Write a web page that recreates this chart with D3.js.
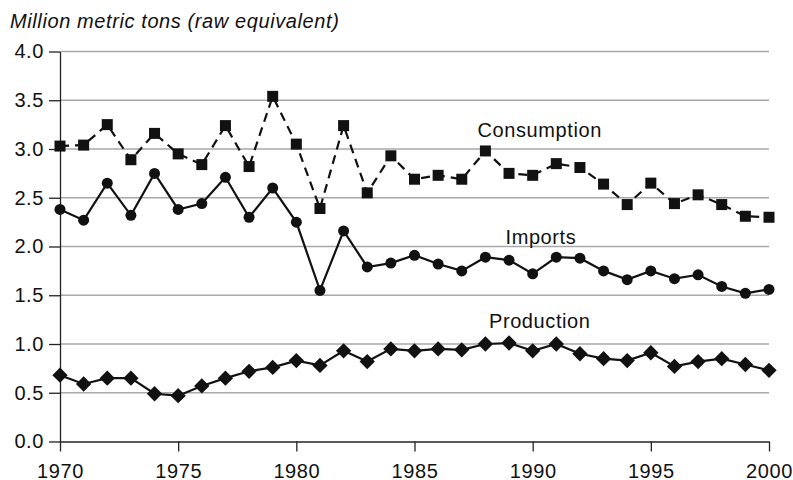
<!DOCTYPE html>
<html lang="en">
	<head>
		<meta charset="utf-8">
		<title>consumption imports production</title>
		<script type="text/javascript" src="https://cdn.jsdelivr.net/npm/d3@7"></script>
		<style type="text/css">
			body { margin:0; background:#fff; }
			text { font-family: "Liberation Sans", Arial, sans-serif; letter-spacing: 0.6px; }
		</style>
	</head>
	<body>
		<script type="text/javascript">

var years = d3.range(1970, 2001)
var consumption = [3.03,3.04,3.25,2.89,3.16,2.95,2.84,3.24,2.82,3.54,3.05,2.39,3.24,2.55,2.93,2.69,2.73,2.69,2.98,2.75,2.73,2.85,2.81,2.64,2.43,2.65,2.44,2.53,2.43,2.31,2.30]
var imports = [2.38,2.27,2.65,2.32,2.75,2.38,2.44,2.71,2.30,2.60,2.25,1.55,2.16,1.79,1.83,1.91,1.82,1.75,1.89,1.86,1.72,1.89,1.88,1.75,1.66,1.75,1.67,1.71,1.59,1.52,1.56]
var production = [0.68,0.59,0.65,0.65,0.49,0.47,0.57,0.65,0.72,0.76,0.83,0.78,0.93,0.82,0.95,0.93,0.95,0.94,1.00,1.01,0.93,1.00,0.90,0.85,0.83,0.91,0.77,0.82,0.85,0.79,0.73]
var yTicks = [0,0.5,1,1.5,2,2.5,3,3.5,4]
var xTicks = [1970,1975,1980,1985,1990,1995,2000]
var labels = [
	{name:"Consumption", year:1990.3, value:3.12},
	{name:"Imports", year:1990.35, value:2.03},
	{name:"Production", year:1990.3, value:1.16}
]

var w = 793, h = 480
var svg = d3.select("body").append("svg")
			.attr("width", w)
			.attr("height", h)

var x = d3.scaleLinear().domain([1970,2000]).range([60,769])
var y = d3.scaleLinear().domain([0,4]).range([441.5,51.5])

svg.append("text")
	.text("Million metric tons (raw equivalent)")
	.attr("x", 10).attr("y", 28)
	.attr("font-size", "20px")
	.attr("font-style", "italic")
	.attr("fill", "#111")

// gridlines
svg.selectAll(".grid")
	.data(yTicks.slice(1))
	.enter()
	.append("line")
	.attr("x1", 60).attr("x2", 769)
	.attr("y1", function(d){ return y(d) })
	.attr("y2", function(d){ return y(d) })
	.attr("stroke", "#a8a8a8")
	.attr("stroke-width", 1.5)

var yAxis = d3.axisLeft(y).tickValues(yTicks).tickFormat(d3.format(".1f")).tickSize(11).tickSizeOuter(0)
var gy = svg.append("g").attr("transform","translate(60,0)").call(yAxis)
gy.select(".domain").attr("stroke","#222").attr("stroke-width",1.3)
gy.selectAll(".tick line").attr("stroke","#222").attr("stroke-width",1.3)
gy.selectAll(".tick text").attr("font-size","20px").attr("fill","#111").attr("x",-16)
	.attr("font-family","Liberation Sans, Arial, sans-serif")

var xAxis = d3.axisBottom(x).tickValues(xTicks).tickFormat(d3.format("d")).tickSize(10).tickSizeOuter(0)
var gx = svg.append("g").attr("transform","translate(0,441.5)").call(xAxis)
gx.select(".domain").attr("stroke","#222").attr("stroke-width",1.3)
gx.selectAll(".tick line").attr("stroke","#222").attr("stroke-width",1.3)
gx.selectAll(".tick text").attr("font-size","20px").attr("fill","#111").attr("y",22)
	.attr("font-family","Liberation Sans, Arial, sans-serif")

var line = d3.line()
	.x(function(d,i){ return x(years[i]) })
	.y(function(d){ return y(d) })

svg.append("path").datum(consumption).attr("d", line)
	.attr("fill","none").attr("stroke","#111").attr("stroke-width",2.2)
	.attr("stroke-dasharray","9,6")
svg.append("path").datum(imports).attr("d", line)
	.attr("fill","none").attr("stroke","#111").attr("stroke-width",2.2)
svg.append("path").datum(production).attr("d", line)
	.attr("fill","none").attr("stroke","#111").attr("stroke-width",2.2)

svg.selectAll(".sq")
	.data(consumption)
	.enter()
	.append("rect")
	.attr("x", function(d,i){ return x(years[i]) - 5.5 })
	.attr("y", function(d){ return y(d) - 5.5 })
	.attr("width", 11).attr("height", 11)
	.attr("fill", "#111")

svg.selectAll(".dot")
	.data(imports)
	.enter()
	.append("circle")
	.attr("cx", function(d,i){ return x(years[i]) })
	.attr("cy", function(d){ return y(d) })
	.attr("r", 5.5)
	.attr("fill", "#111")

var diamond = d3.symbol().type(d3.symbolDiamond2).size(150)
svg.selectAll(".dia")
	.data(production)
	.enter()
	.append("path")
	.attr("d", diamond)
	.attr("transform", function(d,i){ return "translate("+x(years[i])+","+y(d)+")" })
	.attr("fill", "#111")

svg.selectAll(".lbl")
	.data(labels)
	.enter()
	.append("text")
	.text(function(d){ return d.name })
	.attr("x", function(d){ return x(d.year) })
	.attr("y", function(d){ return y(d.value) })
	.attr("text-anchor","middle")
	.attr("font-size","20px")
	.attr("fill","#111")

		</script>
	</body>
</html>
